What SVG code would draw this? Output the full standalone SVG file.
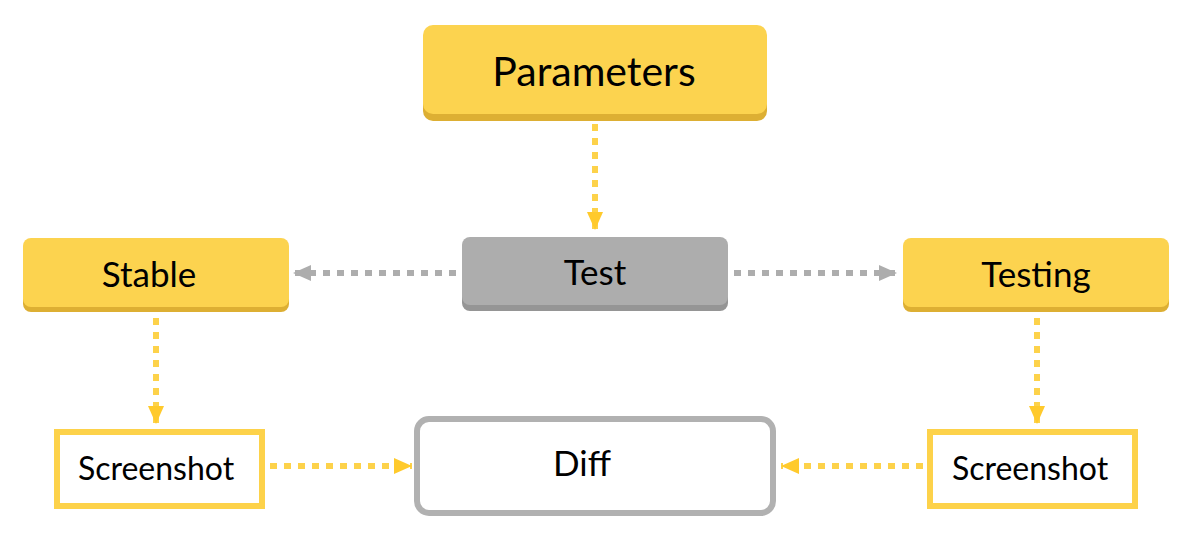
<svg xmlns="http://www.w3.org/2000/svg" width="1188" height="546" viewBox="0 0 1188 546">
<style>
.lbl{font-family:Lato,"Open Sans","Liberation Sans",sans-serif;fill:#000;text-anchor:middle}
.yfill{fill:#FCD34F}
.yshadow{fill:#DDAF33}
.gfill{fill:#ADADAD}
.gshadow{fill:#959595}
.ydash{stroke:#FDD24A;stroke-width:6;stroke-dasharray:7 7;fill:none}
.gdash{stroke:#ADADAD;stroke-width:6;stroke-dasharray:7 7;fill:none}
</style>
<defs>
<marker id="ya" markerUnits="userSpaceOnUse" markerWidth="18" markerHeight="16" refX="18" refY="8" orient="auto"><path d="M0,0 L18,8 L0,16 Z" fill="#FFCA2C"/></marker>
<marker id="ga" markerUnits="userSpaceOnUse" markerWidth="18" markerHeight="16" refX="18" refY="8" orient="auto"><path d="M0,0 L18,8 L0,16 Z" fill="#ADADAD"/></marker>
</defs>
<rect width="1188" height="546" fill="#fff"/>
<g id="connectors">
<line class="ydash" x1="595" y1="124" x2="595" y2="230" marker-end="url(#ya)"/>
<line class="gdash" x1="456" y1="273" x2="293" y2="273" marker-end="url(#ga)"/>
<line class="gdash" x1="734" y1="273" x2="897" y2="273" marker-end="url(#ga)"/>
<line class="ydash" x1="156" y1="318" x2="156" y2="424" marker-end="url(#ya)"/>
<line class="ydash" x1="1037" y1="318" x2="1037" y2="424" marker-end="url(#ya)"/>
<line class="ydash" x1="270" y1="466" x2="412" y2="466" marker-end="url(#ya)"/>
<line class="ydash" x1="923" y1="466" x2="781" y2="466" marker-end="url(#ya)"/>
</g>
<g id="parameters">
<rect class="yshadow" x="423" y="29" width="344" height="92" rx="10"/>
<rect class="yfill" x="423" y="25" width="344" height="89" rx="10"/>
<text class="lbl" x="594" y="86" font-size="41">Parameters</text>
</g>
<g id="stable">
<rect class="yshadow" x="23" y="242" width="266" height="70" rx="8"/>
<rect class="yfill" x="23" y="238" width="266" height="69" rx="8"/>
<text class="lbl" x="149" y="287" font-size="35">Stable</text>
</g>
<g id="test">
<rect class="gshadow" x="462" y="241" width="266" height="70" rx="8"/>
<rect class="gfill" x="462" y="237" width="266" height="68" rx="8"/>
<text class="lbl" x="595" y="285" font-size="35">Test</text>
</g>
<g id="testing">
<rect class="yshadow" x="903" y="242" width="266" height="70" rx="8"/>
<rect class="yfill" x="903" y="238" width="266" height="69" rx="8"/>
<text class="lbl" x="1036" y="287" font-size="35">Testing</text>
</g>
<g id="screenshot-stable">
<rect x="57" y="432" width="205" height="74" fill="#fff" stroke="#FDD24A" stroke-width="6"/>
<text class="lbl" x="156" y="480" font-size="32">Screenshot</text>
</g>
<g id="diff">
<rect x="417" y="419" width="356" height="94" rx="12" fill="#fff" stroke="#B1B1B1" stroke-width="6"/>
<text class="lbl" x="582" y="476" font-size="35">Diff</text>
</g>
<g id="screenshot-testing">
<rect x="930" y="432" width="205" height="74" fill="#fff" stroke="#FDD24A" stroke-width="6"/>
<text class="lbl" x="1030" y="480" font-size="32">Screenshot</text>
</g>
</svg>
